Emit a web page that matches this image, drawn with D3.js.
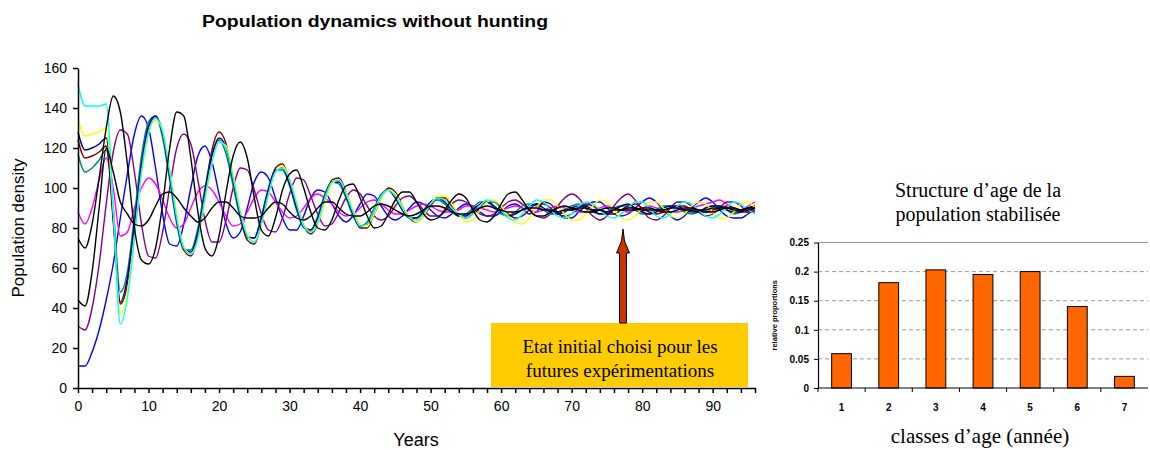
<!DOCTYPE html>
<html><head><meta charset="utf-8">
<script src="https://cdn.jsdelivr.net/npm/d3@7"></script>
<style>
html,body{margin:0;padding:0;background:#fff;}
svg{display:block;}
</style></head>
<body>
<svg id="chart" width="1150" height="450"></svg>
<script>
// ---------------- DATA ----------------
const mainTitle = "Population dynamics without hunting";
const yLabel = "Population density";
const xLabel = "Years";
const xDomain = [0, 96];
const yTicks = [0, 20, 40, 60, 80, 100, 120, 140, 160];
const xTickLabels = [0, 10, 20, 30, 40, 50, 60, 70, 80, 90];

// one value per year (index = year)
const cyan = [152,141,141,141,142,90,32,45,75,108,128,135,128,108,85,70,67,75,95,113,123,120,105,88,76,73,82,97,108,110,104,92,81,78,83,95,103,104,97,88,81,82,89,96,99,96,90,85,84,87,92,95,94,90,87,85,87,91,94,93,89,85,84,87,91,94,93,89,86,85,87,91,93,92,89,86,85,87,90,93,93,90,86,85,87,91,93,92,89,86,85,87,90,93,92,89,87];
const yellow = [135,126,127,128,130,88,37,48,76,106,127,134,129,110,87,71,67,74,93,112,123,121,107,89,77,73,81,96,108,111,105,93,82,78,82,93,102,104,98,89,82,81,87,95,99,97,91,86,83,86,92,96,96,92,87,83,84,89,93,94,91,86,83,82,85,90,94,94,91,87,84,84,87,91,94,93,89,85,84,86,90,93,93,90,86,85,87,91,93,92,88,85,85,88,92,93,90];
const navy = [128,119,120,122,125,85,43,55,82,112,131,136,127,106,84,70,68,78,98,116,125,120,104,87,76,75,85,99,109,110,102,90,81,79,85,96,103,103,96,87,81,82,89,96,99,95,89,85,85,88,93,95,93,89,86,86,89,92,93,91,88,86,87,89,91,92,90,88,87,88,90,91,91,89,87,87,89,91,92,90,88,87,88,90,91,91,89,88,88,90,91,91,89,88,88,90,91];
const maroon = [124,115,116,118,121,83,42,52,80,110,130,135,128,108,85,69,66,76,98,119,128,122,104,86,74,72,82,98,110,112,104,91,81,77,82,94,104,105,98,88,80,80,87,95,100,98,91,85,83,86,91,95,95,91,87,85,87,90,93,93,90,87,85,86,89,92,92,90,87,86,87,90,92,91,89,87,87,89,91,92,90,88,87,88,90,91,91,89,88,88,89,90,91,90,88,88,90];
const teal = [117,108,110,114,119,90,48,58,86,116,133,136,125,104,82,69,69,80,100,117,124,117,101,85,75,75,86,100,109,109,101,89,80,79,86,97,103,102,95,86,81,83,90,97,99,95,89,85,85,89,93,94,92,88,86,87,90,93,93,90,87,86,88,91,92,91,89,87,87,89,91,92,90,88,87,88,90,91,91,89,87,87,89,91,91,90,88,87,88,90,91,91,89,87,88,90,91];
const magenta = [88,82,90,104,115,100,76,78,90,100,105,102,94,85,80,82,90,98,101,99,93,86,81,82,88,95,99,98,93,88,85,86,90,95,97,95,92,88,86,87,90,93,94,92,89,87,87,89,91,92,91,89,88,88,89,91,91,90,89,88,89,90,91,90,89,88,89,90,91,90,89,88,88,89,90,91,90,89,88,89,90,91,90,89,88,88,89,90,91,92,93,94,92,90,89,91,93];
const purple = [31,29,40,62,92,118,129,127,108,82,66,65,78,100,120,127,122,104,84,73,73,84,100,110,109,99,87,79,78,85,97,105,104,96,87,81,82,88,95,99,97,91,86,84,86,91,95,96,93,89,86,86,88,92,94,93,90,87,86,87,90,93,94,92,89,86,85,87,91,95,97,95,90,86,84,86,91,95,97,94,89,85,84,86,90,93,93,91,88,86,87,90,93,93,91,88,88];
const blue = [11,11,18,29,44,62,85,107,127,136,130,110,87,72,71,82,100,116,121,113,97,82,75,78,90,103,108,105,95,85,79,79,86,95,99,98,92,86,83,86,92,97,96,91,86,84,86,90,93,92,89,86,85,87,90,92,91,88,86,86,88,91,92,90,87,88,93,92,88,85,85,88,91,93,93,90,87,86,87,90,93,95,93,89,86,84,86,90,93,95,93,89,86,85,85,87,89];
const blackA = [75,70,82,105,130,146,138,112,80,64,62,70,92,120,138,136,115,88,70,66,76,98,116,123,115,95,79,76,85,99,107,109,100,88,80,79,84,94,101,102,95,86,80,81,87,94,98,98,93,87,84,85,89,94,97,95,89,84,83,86,92,97,98,94,89,86,86,88,90,91,90,89,88,88,89,90,90,89,89,89,90,90,89,88,88,89,90,90,89,88,88,89,90,90,89,89,90];
const blackB = [44,41,58,90,120,108,93,87,82,81,84,91,97,98,95,90,86,83,85,90,93,93,90,86,85,85,86,90,93,92,88,85,84,86,90,93,93,90,87,86,86,88,91,92,91,89,87,86,87,89,91,91,90,88,87,87,88,90,91,90,89,88,88,89,90,90,89,89,88,89,89,90,90,89,89,88,89,89,90,90,89,89,89,89,90,90,89,89,89,89,90,90,90,89,89,90,90];

const seriesList = [
  {name:"blue", color:"#0000FF", values: blue},
  {name:"magenta", color:"#FF00FF", values: magenta},
  {name:"purple", color:"#800080", values: purple},
  {name:"teal", color:"#008080", values: teal},
  {name:"maroon", color:"#800000", values: maroon},
  {name:"navy", color:"#000080", values: navy},
  {name:"yellow", color:"#FFFF00", values: yellow},
  {name:"cyan", color:"#00FFFF", values: cyan},
  {name:"blackB", color:"#000000", values: blackB},
  {name:"blackA", color:"#000000", values: blackA}
];

const annotationLines = ["Etat initial choisi pour les", "futures expérimentations"];
const annotationYear = 77;

// bar chart
const barTitle = ["Structure d’age de la", "population stabilisée"];
const ageClasses = ["1","2","3","4","5","6","7"];
const proportions = [0.059, 0.181, 0.203, 0.195, 0.2, 0.14, 0.02];
const barYTicks = [0, 0.05, 0.1, 0.15, 0.2, 0.25];
const barYLabel = "relative proportions";
const barXLabel = "classes d’age (année)";

// ---------------- DRAW ----------------
const svg = d3.select("#chart");
const sans = "'Liberation Sans', Arial, sans-serif";
const serif = "'Liberation Serif', 'Times New Roman', serif";

// ---- left chart ----
const L = {left: 78, right: 755, top: 68, bottom: 388};
const x = d3.scaleLinear().domain(xDomain).range([L.left, L.right]);
const y = d3.scaleLinear().domain([0, 160]).range([L.bottom, L.top]);

svg.append("text").attr("x", 375).attr("y", 27).attr("text-anchor","middle")
  .attr("font-family", sans).attr("font-weight","bold").attr("font-size",16)
  .attr("textLength", 346).attr("lengthAdjust","spacingAndGlyphs")
  .text(mainTitle);

const line = d3.line().x((d,i)=>x(i)).y(d=>y(d)).curve(d3.curveMonotoneX);
const gLines = svg.append("g");
seriesList.forEach(s => {
  gLines.append("path").datum(s.values).attr("d", line)
    .attr("fill","none").attr("stroke", s.color).attr("stroke-width",1.4)
    .attr("stroke-linejoin","round");
});

// y axis
const yAxis = d3.axisLeft(y).tickValues(yTicks).tickSize(5).tickSizeOuter(0).tickPadding(6);
const gy = svg.append("g").attr("transform", `translate(${L.left},0)`).call(yAxis);
gy.select(".domain").attr("stroke","#000").attr("stroke-width",1.5);
gy.selectAll(".tick line").attr("stroke","#000").attr("stroke-width",1.5);
gy.selectAll("text").attr("font-family", sans).attr("font-size",14).attr("fill","#000");

// x axis
const xMinor = d3.range(0, 97, 2);
const xAxis = d3.axisBottom(x).tickValues(xMinor).tickSize(5).tickSizeOuter(0).tickPadding(8)
  .tickFormat(d => xTickLabels.includes(d) ? d : "");
const gx = svg.append("g").attr("transform", `translate(0,${L.bottom})`).call(xAxis);
gx.select(".domain").attr("stroke","#000").attr("stroke-width",1.5);
gx.selectAll(".tick line").attr("stroke","#000").attr("stroke-width",1.5);
gx.selectAll("text").attr("font-family", sans).attr("font-size",14).attr("fill","#000");

svg.append("text").attr("transform", `translate(24,${(L.top+L.bottom)/2}) rotate(-90)`)
  .attr("text-anchor","middle").attr("font-family", sans).attr("font-size",17).text(yLabel);
svg.append("text").attr("x", 416).attr("y", 446).attr("text-anchor","middle")
  .attr("font-family", sans).attr("font-size",18).text(xLabel);

// annotation box + arrow
const boxX0 = 491, boxX1 = 748, boxY0 = 323;
svg.append("rect").attr("x", boxX0).attr("y", boxY0).attr("width", boxX1-boxX0).attr("height", L.bottom-boxY0-1)
  .attr("fill","#FFCC00");
const ax = x(annotationYear) + 2;
const tipY = 229, shaftBottom = 323;
const arrowPath = d3.path();
arrowPath.moveTo(ax-3.5, shaftBottom);
arrowPath.lineTo(ax-3.5, tipY+24);
arrowPath.lineTo(ax-6.5, tipY+24);
arrowPath.lineTo(ax-1.5, tipY+12);
arrowPath.lineTo(ax, tipY);
arrowPath.lineTo(ax+1.5, tipY+12);
arrowPath.lineTo(ax+6.5, tipY+24);
arrowPath.lineTo(ax+3.5, tipY+24);
arrowPath.lineTo(ax+3.5, shaftBottom);
arrowPath.closePath();
svg.append("path").attr("d", arrowPath.toString()).attr("fill","#CC3300").attr("stroke","#000").attr("stroke-width",1);
annotationLines.forEach((t,i)=>{
  svg.append("text").attr("x", 620).attr("y", 353 + i*24).attr("text-anchor","middle")
    .attr("font-family", serif).attr("font-size",19).attr("fill","#000").text(t);
});

// ---- right chart ----
const R = {left: 818, right: 1148, top: 242.5, bottom: 388};
const bx = d3.scaleBand().domain(ageClasses).range([R.left, R.right]).paddingInner(0.58).paddingOuter(0.29);
const by = d3.scaleLinear().domain([0, 0.25]).range([R.bottom, R.top]);

barTitle.forEach((t,i)=>{
  svg.append("text").attr("x", 978).attr("y", 197 + i*24).attr("text-anchor","middle")
    .attr("font-family", serif).attr("font-size",20).attr("fill","#000").text(t);
});

// gridlines
svg.append("g").selectAll("line").data(barYTicks.filter(d=>d>0 && d<0.25)).join("line")
  .attr("x1", R.left).attr("x2", R.right).attr("y1", d=>by(d)).attr("y2", d=>by(d))
  .attr("stroke","#999").attr("stroke-dasharray","4,3").attr("stroke-width",1);
svg.append("line").attr("x1", R.left).attr("x2", R.right).attr("y1", by(0.25)).attr("y2", by(0.25))
  .attr("stroke","#999").attr("stroke-width",1);

svg.append("g").selectAll("rect").data(proportions).join("rect")
  .attr("x", (d,i)=>bx(ageClasses[i])).attr("width", bx.bandwidth())
  .attr("y", d=>by(d)).attr("height", d=>by(0)-by(d))
  .attr("fill","#FF6600").attr("stroke","#000").attr("stroke-width",1);

const byAxis = d3.axisLeft(by).tickValues(barYTicks).tickSize(4).tickSizeOuter(0).tickPadding(5)
  .tickFormat(d => d===0 ? "0" : d3.format("")(+d.toFixed(2)));
const gby = svg.append("g").attr("transform", `translate(${R.left},0)`).call(byAxis);
gby.select(".domain").attr("stroke","#000").attr("stroke-width",1.2);
gby.selectAll(".tick line").attr("stroke","#000");
gby.selectAll("text").attr("font-family", sans).attr("font-weight","bold").attr("font-size",10).attr("fill","#000");

// x axis for bars with ticks at band boundaries
const gbx = svg.append("g");
gbx.append("line").attr("x1", R.left).attr("x2", R.right).attr("y1", R.bottom).attr("y2", R.bottom)
  .attr("stroke","#000").attr("stroke-width",1.2);
const step = bx.step();
ageClasses.forEach((c,i)=>{
  const cx = bx(c) + bx.bandwidth()/2;
  gbx.append("line").attr("x1", cx - step/2).attr("x2", cx - step/2).attr("y1", R.bottom).attr("y2", R.bottom+4).attr("stroke","#000");
  gbx.append("text").attr("x", cx).attr("y", 411).attr("text-anchor","middle")
    .attr("font-family", sans).attr("font-weight","bold").attr("font-size",10).text(c);
});

svg.append("text").attr("transform", `translate(777,${(R.top+R.bottom)/2}) rotate(-90)`)
  .attr("text-anchor","middle").attr("font-family", sans).attr("font-weight","bold").attr("font-size",7.5).text(barYLabel);
svg.append("text").attr("x", 980).attr("y", 443).attr("text-anchor","middle")
  .attr("font-family", serif).attr("font-size",21).text(barXLabel);
</script>
</body></html>
